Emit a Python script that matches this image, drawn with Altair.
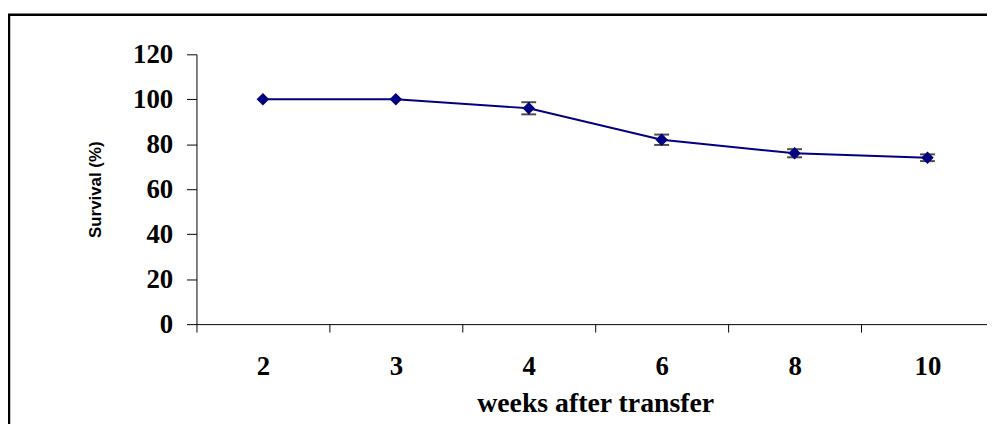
import altair as alt
import pandas as pd

weeks = ["2", "3", "4", "6", "8", "10"]
survival = [100, 100, 96, 82, 76, 74]
err = [0, 0, 2.7, 2.3, 1.8, 1.5]

df = pd.DataFrame({"week": weeks, "survival": survival, "err": err})
df["lo"] = df["survival"] - df["err"]
df["hi"] = df["survival"] + df["err"]

NAVY = "#000080"
SERIF = "Liberation Serif"

xscale = alt.Scale(type="band", domain=weeks, range=[0, 804], paddingInner=0, paddingOuter=0)
yscale = alt.Scale(domain=[0, 120], nice=False)

x_enc = alt.X(
    "week:N",
    scale=xscale,
    sort=weeks,
    axis=alt.Axis(
        title="weeks after transfer",
        labelAngle=0,
        tickBand="extent",
        tickSize=8,
        tickColor="black",
        domainColor="black",
        labelFont=SERIF,
        labelFontWeight="bold",
        labelFontSize=27,
        labelColor="black",
        labelPadding=22,
        labelBaseline="top",
        titleFont=SERIF,
        titleFontWeight="bold",
        titleFontSize=28,
        titleColor="black",
        titleBaseline="alphabetic",
        titleY=88,
        grid=False,
    ),
)

y_enc = alt.Y(
    "survival:Q",
    scale=yscale,
    axis=alt.Axis(
        title="Survival (%)",
        values=[0, 20, 40, 60, 80, 100, 120],
        tickSize=10,
        tickColor="black",
        domainColor="black",
        labelFont=SERIF,
        labelFontWeight="bold",
        labelFontSize=27,
        labelColor="black",
        labelPadding=14,
        titleFont="Liberation Sans",
        titleFontWeight="bold",
        titleFontSize=17,
        titleColor="black",
        titleBaseline="middle",
        titleX=-102,
        grid=False,
    ),
)

base = alt.Chart(df)

line = base.mark_line(color=NAVY, strokeWidth=2).encode(x=x_enc, y=y_enc)

bars = base.transform_filter("datum.err > 0").mark_rule(color="black", strokeWidth=1.5).encode(
    x=alt.X("week:N", scale=xscale, sort=weeks),
    y=alt.Y("lo:Q", scale=yscale),
    y2="hi:Q",
)
cap_lo = base.transform_filter("datum.err > 0").mark_tick(color="black", thickness=2, size=15).encode(
    x=alt.X("week:N", scale=xscale, sort=weeks),
    y=alt.Y("lo:Q", scale=yscale),
)
cap_hi = base.transform_filter("datum.err > 0").mark_tick(color="black", thickness=2, size=15).encode(
    x=alt.X("week:N", scale=xscale, sort=weeks),
    y=alt.Y("hi:Q", scale=yscale),
)

points = base.mark_point(shape="diamond", filled=True, color=NAVY, size=160, opacity=1).encode(
    x=alt.X("week:N", scale=xscale, sort=weeks),
    y=alt.Y("survival:Q", scale=yscale),
)

frame = alt.Chart(pd.DataFrame({"f": [0]})).mark_rect(
    fill="transparent", stroke="black", strokeWidth=2.5
).encode(
    x=alt.value(-189),
    x2=alt.value(1000),
    y=alt.value(-40),
    y2=alt.value(600),
)

chart = (
    alt.layer(line, bars, cap_lo, cap_hi, points, frame)
    .properties(
        width=797,
        height=272,
        autosize=alt.AutoSizeParams(type="none"),
        padding={"left": 190, "top": 45, "right": 0, "bottom": 99},
        background="white",
    )
    .configure_view(stroke=None)
)

chart.save("out.html", embed_options={"renderer": "svg", "actions": False})
